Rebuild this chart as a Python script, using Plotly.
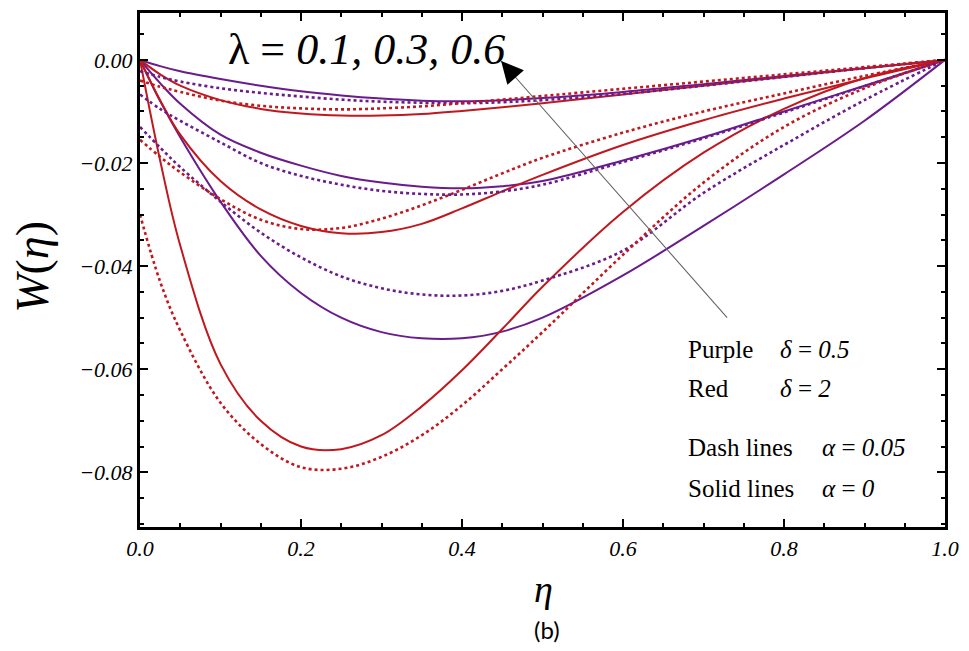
import plotly.graph_objects as go

# eta grid shared by all curves
eta = [0.0, 0.025, 0.05, 0.1, 0.15, 0.2, 0.25, 0.3, 0.35, 0.4, 0.45, 0.5, 0.6, 0.7, 0.8, 0.9, 1.0]

# delta = 0.5 (purple), alpha = 0 (solid)
p01_solid = [0, -0.0012, -0.0022, -0.0037, -0.0050, -0.0061, -0.0069, -0.0075, -0.0079, -0.0080, -0.0078, -0.0074, -0.0062, -0.0047, -0.0031, -0.0016, 0]
p03_solid = [0, -0.0045, -0.0085, -0.0145, -0.0180, -0.0205, -0.0225, -0.0238, -0.0246, -0.0249, -0.0245, -0.0235, -0.0195, -0.0150, -0.0100, -0.0050, 0]
p06_solid = [0, -0.0080, -0.0150, -0.0275, -0.0380, -0.0452, -0.0500, -0.0528, -0.0540, -0.0540, -0.0527, -0.0500, -0.0418, -0.0322, -0.0222, -0.0118, 0]
# delta = 0.5 (purple), alpha = 0.05 (dashed)
p01_dash = [-0.0022, -0.0033, -0.0042, -0.0055, -0.0064, -0.0071, -0.0077, -0.0081, -0.0083, -0.0084, -0.0082, -0.0078, -0.0066, -0.0050, -0.0033, -0.0016, 0]
p03_dash = [-0.0067, -0.0095, -0.0118, -0.0160, -0.0200, -0.0225, -0.0242, -0.0254, -0.0260, -0.0261, -0.0255, -0.0242, -0.0198, -0.0152, -0.0102, -0.0051, 0]
p06_dash = [-0.0130, -0.0170, -0.0208, -0.0275, -0.0335, -0.0383, -0.0420, -0.0443, -0.0455, -0.0457, -0.0448, -0.0428, -0.0370, -0.0258, -0.0165, -0.0078, 0]
# delta = 2 (red), alpha = 0 (solid)
r01_solid = [0, -0.0028, -0.0050, -0.0078, -0.0095, -0.0104, -0.0108, -0.0108, -0.0105, -0.0099, -0.0092, -0.0084, -0.0067, -0.0050, -0.0033, -0.0016, 0]
r03_solid = [0, -0.0078, -0.0145, -0.0235, -0.0290, -0.0322, -0.0336, -0.0334, -0.0318, -0.0288, -0.0255, -0.0223, -0.0165, -0.0117, -0.0075, -0.0036, 0]
r06_solid = [0, -0.0195, -0.0360, -0.0590, -0.0700, -0.0750, -0.0755, -0.0728, -0.0672, -0.0602, -0.0522, -0.0440, -0.0295, -0.0180, -0.0095, -0.0035, 0]
# delta = 2 (red), alpha = 0.05 (dashed)
r01_dash = [-0.0040, -0.0052, -0.0062, -0.0079, -0.0089, -0.0094, -0.0096, -0.0094, -0.0090, -0.0084, -0.0077, -0.0070, -0.0056, -0.0042, -0.0028, -0.0014, 0]
r03_dash = [-0.0155, -0.0188, -0.0218, -0.0270, -0.0310, -0.0328, -0.0326, -0.0308, -0.0282, -0.0252, -0.0220, -0.0190, -0.0141, -0.0100, -0.0065, -0.0031, 0]
r06_dash = [-0.0300, -0.0430, -0.0525, -0.0665, -0.0745, -0.0790, -0.0793, -0.0770, -0.0728, -0.0670, -0.0600, -0.0528, -0.0378, -0.0238, -0.0130, -0.0055, 0]

x_ticks = [0.0, 0.2, 0.4, 0.6, 0.8, 1.0]
y_ticks = [0.00, -0.02, -0.04, -0.06, -0.08]

PURPLE = "#6a1b8c"
RED = "#c0181e"

series = [
    (p01_solid, PURPLE, "solid"), (p03_solid, PURPLE, "solid"), (p06_solid, PURPLE, "solid"),
    (r01_solid, RED, "solid"), (r03_solid, RED, "solid"), (r06_solid, RED, "solid"),
    (p01_dash, PURPLE, "dash"), (p03_dash, PURPLE, "dash"), (p06_dash, PURPLE, "dash"),
    (r01_dash, RED, "dash"), (r03_dash, RED, "dash"), (r06_dash, RED, "dash"),
]

fig = go.Figure()
for vals, col, kind in series:
    if kind == "solid":
        ln = dict(color=col, width=2, shape="spline", smoothing=1.0)
    else:
        ln = dict(color=col, width=2.6, dash="3px,3px", shape="spline", smoothing=1.0)
    fig.add_trace(go.Scatter(x=eta, y=vals, mode="lines", line=ln, showlegend=False, hoverinfo="skip"))

serif = "Liberation Serif, Times New Roman, Tinos, Times, serif"
axis_common = dict(
    showline=True, linecolor="black", linewidth=3, mirror="allticks",
    ticks="inside", ticklen=8, tickwidth=2, tickcolor="black",
    showgrid=False, zeroline=False,
    tickfont=dict(family=serif, size=22, color="black", style="italic"),
)
fig.update_xaxes(
    range=[0, 1], tickvals=x_ticks, tickformat=".1f",
    minor=dict(dtick=0.05, ticks="inside", ticklen=4, tickwidth=1.5, tickcolor="black"),
    **axis_common,
)
fig.update_yaxes(
    range=[-0.0906, 0.0091], tickvals=y_ticks, tickformat=".2f",
    minor=dict(dtick=0.005, tick0=0, ticks="inside", ticklen=4, tickwidth=1.5, tickcolor="black"),
    **axis_common,
)

L, R, T, B = 140, 22, 10, 124
W_, H_ = 969, 651
pw, ph = W_ - L - R, H_ - T - B

def px(xp):
    return (xp - L) / pw

def py(yp):
    return (H_ - B - yp) / ph

annos = []
# arrow line (grey) and black head pointing at the lambda label
annos.append(dict(x=0.4486, y=-0.0002, xref="x", yref="y", ax=0.731, ay=-0.0503, axref="x", ayref="y",
                  text="", showarrow=True, arrowhead=0, arrowwidth=1.1, arrowcolor="#666666"))
annos.append(dict(x=0.4486, y=-0.0002, xref="x", yref="y", ax=0.4666, ay=-0.0034, axref="x", ayref="y",
                  text="", showarrow=True, arrowhead=2, arrowsize=4, arrowwidth=1.1, arrowcolor="black"))
annos.append(dict(x=px(226), y=py(47), xref="paper", yref="paper", xanchor="left", yanchor="middle",
                  text="λ = <i>0.1, 0.3, 0.6</i>", showarrow=False,
                  font=dict(family=serif, size=44, color="black")))
legend_lines = [
    (348, "Purple", "<i>δ</i> = <i>0.5</i>", 780),
    (388, "Red", "<i>δ</i> = <i>2</i>", 780),
    (447, "Dash lines", "<i>α</i> = <i>0.05</i>", 822),
    (488, "Solid lines", "<i>α</i> = <i>0</i>", 822),
]
for yp, a, b, x2 in legend_lines:
    annos.append(dict(x=px(687), y=py(yp), xref="paper", yref="paper", xanchor="left", yanchor="middle",
                      text=a, showarrow=False, font=dict(family=serif, size=25, color="black")))
    annos.append(dict(x=px(x2), y=py(yp), xref="paper", yref="paper", xanchor="left", yanchor="middle",
                      text=b, showarrow=False, font=dict(family=serif, size=25, color="black")))
# axis titles
annos.append(dict(x=px(545), y=py(589), xref="paper", yref="paper", xanchor="center", yanchor="middle",
                  text="<i>η</i>", showarrow=False, font=dict(family=serif, size=38, color="black")))
annos.append(dict(x=px(32), y=py(265), xref="paper", yref="paper", xanchor="center", yanchor="middle",
                  text="<i>W</i>(<i>η</i>)", textangle=-90, showarrow=False,
                  font=dict(family=serif, size=46, color="black")))
annos.append(dict(x=px(548), y=py(630), xref="paper", yref="paper", xanchor="center", yanchor="middle",
                  text="(b)", showarrow=False, font=dict(family="Lato", size=24, color="black")))

fig.update_layout(
    width=W_, height=H_,
    margin=dict(l=L, r=R, t=T, b=B, pad=0),
    paper_bgcolor="white", plot_bgcolor="white",
    annotations=annos,
)

fig.write_html("out.html")
